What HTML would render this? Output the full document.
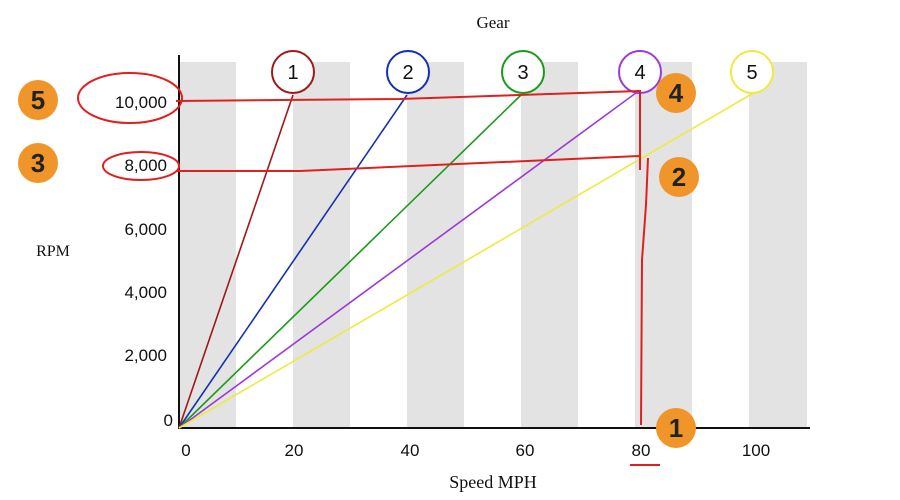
<!DOCTYPE html>
<html><head><meta charset="utf-8"><style>
html,body{margin:0;padding:0;background:#fff;}
svg{display:block;font-family:"Liberation Sans",sans-serif;}
</style></head><body>
<svg width="900" height="500" viewBox="0 0 900 500">
<g fill="#e3e3e3">
<rect x="180" y="62" width="56" height="366"/>
<rect x="293" y="62" width="57" height="366"/>
<rect x="407" y="62" width="57" height="366"/>
<rect x="521" y="62" width="57" height="366"/>
<rect x="635" y="62" width="57" height="366"/>
<rect x="749" y="62" width="58" height="366"/>
</g>
<line x1="179" y1="55" x2="179" y2="429" stroke="#111" stroke-width="2"/>
<line x1="178" y1="428" x2="810" y2="428" stroke="#111" stroke-width="2"/>
<g stroke-width="1.6" fill="none">
<line x1="179" y1="428" x2="293" y2="95" stroke="#a01818"/>
<line x1="179" y1="428" x2="407" y2="95" stroke="#1530b0"/>
<line x1="179" y1="428" x2="521" y2="95" stroke="#1a9a1a"/>
<line x1="179" y1="428" x2="640" y2="90" stroke="#9a3ad8"/>
<line x1="179" y1="428" x2="762" y2="88" stroke="#eeea40"/>
</g>
<g fill="#fff" stroke-width="2">
<circle cx="293" cy="72" r="21" stroke="#a01818"/>
<circle cx="408" cy="72" r="21" stroke="#1530b0"/>
<circle cx="523" cy="72" r="21" stroke="#1a9a1a"/>
<circle cx="640" cy="72" r="21" stroke="#9a3ad8"/>
<circle cx="752" cy="72" r="21" stroke="#eeea40"/>
</g>
<g font-size="20" text-anchor="middle" fill="#111">
<text x="293" y="79">1</text><text x="408" y="79">2</text><text x="523" y="79">3</text><text x="640" y="79">4</text><text x="752" y="79">5</text>
</g>
<g font-size="17" fill="#111" text-anchor="end">
<text x="167" y="108">10,000</text>
<text x="167" y="171">8,000</text>
<text x="167" y="235">6,000</text>
<text x="167" y="298">4,000</text>
<text x="167" y="361">2,000</text>
<text x="173" y="426">0</text>
</g>
<g font-size="17" fill="#111" text-anchor="middle">
<text x="186" y="456">0</text><text x="294" y="456">20</text><text x="410" y="456">40</text><text x="525" y="456">60</text><text x="641" y="456">80</text><text x="756" y="456">100</text>
</g>
<text x="493" y="28" font-size="17" text-anchor="middle" fill="#111" font-family="Liberation Serif,serif">Gear</text>
<text x="53" y="256" font-size="16" text-anchor="middle" fill="#111" font-family="Liberation Serif,serif">RPM</text>
<text x="493" y="488" font-size="18" text-anchor="middle" fill="#111" font-family="Liberation Serif,serif">Speed MPH</text>
<g stroke="#e02020" stroke-width="2" fill="none">
<ellipse cx="130" cy="98" rx="52" ry="25"/>
<ellipse cx="141" cy="166" rx="38" ry="14"/>
<path d="M176 101 L400 99 L640 91"/>
<path d="M176 171 L300 171 L640 156"/>
<path d="M640 90 L640 170"/>
<path d="M648 158 L646 205 L642 260 L641 425"/>
<line x1="630" y1="465" x2="660" y2="465"/>
</g>
<g fill="#f0952a">
<circle cx="38" cy="100" r="20"/><circle cx="38" cy="163" r="20"/>
<circle cx="676" cy="93" r="20"/><circle cx="679" cy="177" r="20"/><circle cx="676" cy="428" r="20"/>
</g>
<g font-size="26" font-weight="bold" text-anchor="middle" fill="#222">
<text x="38" y="109">5</text><text x="38" y="172">3</text><text x="676" y="102">4</text><text x="679" y="186">2</text><text x="676" y="437">1</text>
</g>
</svg>
</body></html>
